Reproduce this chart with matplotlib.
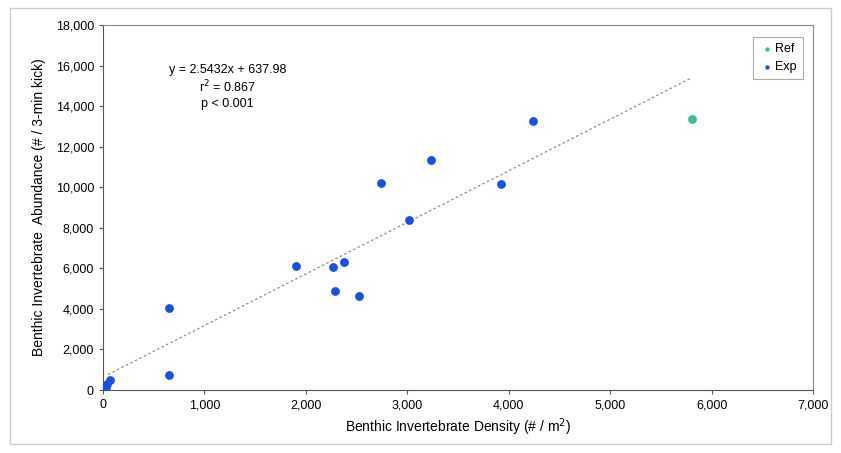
import numpy as np
import matplotlib
matplotlib.use("Agg")
import matplotlib.pyplot as plt
from matplotlib.patches import Rectangle

plt.rcParams['font.family'] = ['Liberation Sans', 'DejaVu Sans']

# reference site
ref_x = [5810]
ref_y = [13350]

# exposed sites
exp_x = [10, 25, 40, 69, 651, 651, 1903, 2268, 2288, 2377, 2525, 2742, 3018, 3235, 3925, 4240]
exp_y = [50, 150, 300, 490, 4043, 740, 6114, 6065, 4880, 6312, 4635, 10207, 8383, 11340, 10158, 13264]

# fitted trendline
slope = 2.5432
intercept = 637.98
fit_text = "y = 2.5432x + 637.98\nr$^2$ = 0.867\np < 0.001"

x_ticks = [0, 1000, 2000, 3000, 4000, 5000, 6000, 7000]
y_ticks = [0, 2000, 4000, 6000, 8000, 10000, 12000, 14000, 16000, 18000]

fig = plt.figure(figsize=(8.41, 4.53), dpi=100)
ax = fig.add_axes([0.1225, 0.139, 0.8442, 0.8058])

# trendline over data range
xs = np.array([50, 5800])
ax.plot(xs, slope * xs + intercept, linestyle=(0, (2, 2)), color='#a08a70', lw=0.9, zorder=1)

ax.scatter(ref_x, ref_y, s=40, color='#3dbf8f', label='Ref', zorder=3, linewidths=0)
ax.scatter(exp_x, exp_y, s=40, color='#1a4fe0', label='Exp', zorder=3, linewidths=0)

ax.set_xlim(0, 7000)
ax.set_ylim(0, 18000)
ax.set_xticks(x_ticks)
ax.set_yticks(y_ticks)
ax.set_xticklabels([f"{v:,}" for v in x_ticks])
ax.set_yticklabels([f"{v:,}" for v in y_ticks])
ax.tick_params(labelsize=9, length=3, color='#555555', direction='out')

for s in ['left', 'bottom']:
    ax.spines[s].set_color('#555555')
for s in ['top', 'right']:
    ax.spines[s].set_color('#888888')
    ax.spines[s].set_linewidth(0.8)

ax.set_xlabel("Benthic Invertebrate Density (# / m$^2$)", fontsize=10, labelpad=4)
ax.set_ylabel("Benthic Invertebrate  Abundance (# / 3-min kick)", fontsize=10, labelpad=7)

ax.text(1230, 14950, fit_text, ha='center', va='center', fontsize=9, linespacing=1.25)

leg = ax.legend(loc='upper right', bbox_to_anchor=(0.995, 0.985), fontsize=9,
                frameon=True, fancybox=False, edgecolor='#999999',
                markerscale=0.5, handletextpad=0.1, borderpad=0.5, handlelength=1.2)
leg.get_frame().set_linewidth(0.8)

# outer border around the picture
fig.patches.append(Rectangle((0.012, 0.02), 0.976, 0.962, transform=fig.transFigure,
                             fill=False, edgecolor='#cccccc', lw=1))

fig.savefig("out.png", dpi=100)
